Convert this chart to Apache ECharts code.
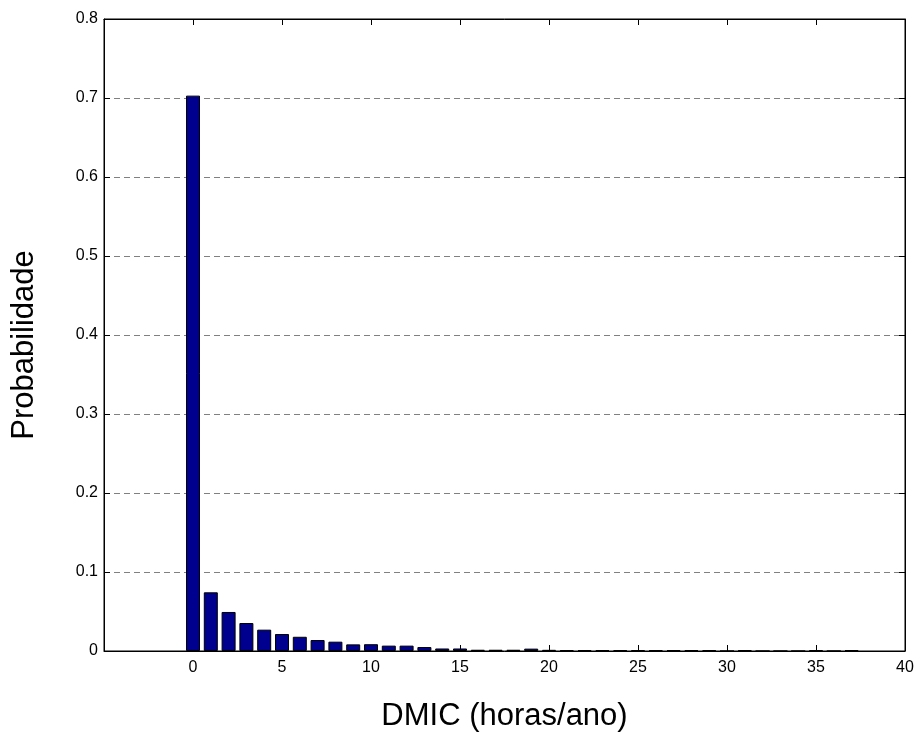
<!DOCTYPE html>
<html>
<head>
<meta charset="utf-8">
<script src="https://cdn.jsdelivr.net/npm/echarts@6/dist/echarts.min.js"></script>
<style>
    html, body { margin: 0; padding: 0; background: #fff; }
    #chart { width: 919px; height: 734px; }
</style>
</head>
<body>
<div id="chart"></div>
<script>
// DMIC classes (horas/ano) and probability of each class
const dmicHours = [0, 1, 2, 3, 4, 5, 6, 7, 8, 9, 10, 11, 12, 13, 14, 15, 16, 17, 18, 19,
    20, 21, 22, 23, 24, 25, 26, 27, 28, 29, 30, 31, 32, 33, 34, 35, 36, 37]
const probability = [0.703, 0.0743, 0.0494, 0.0354, 0.027, 0.0215, 0.018, 0.0139, 0.0118, 0.0084,
    0.0086, 0.0068, 0.0068, 0.005, 0.0032, 0.0032, 0.0016, 0.0016, 0.0016, 0.003,
    0.0015, 0.0012, 0.0012, 0.0012, 0.0012, 0.0012, 0.0012, 0.0012, 0.0012, 0.0012,
    0, 0.0012, 0, 0, 0, 0.0012, 0, 0.0012]
const xTicks = [0, 5, 10, 15, 20, 25, 30, 35, 40]
const yTicks = [0, 0.1, 0.2, 0.3, 0.4, 0.5, 0.6, 0.7, 0.8]

const chart = echarts.init(document.getElementById("chart"))

const font = "Arial, 'Liberation Sans', sans-serif"
const tickLen = 6

const option = {
    animation: false,
    backgroundColor: "#fff",
    grid: {
        left: 104,
        right: 14,
        top: 19,
        bottom: 83,
        outerBoundsMode: "none",
        containLabel: false,
        show: true,
        borderColor: "#000",
        borderWidth: 1
    },
    xAxis: [{
        type: "value",
        min: -5,
        max: xTicks[xTicks.length - 1],
        interval: 5,
        position: "bottom",
        name: "DMIC (horas/ano)",
        nameLocation: "middle",
        nameGap: 50,
        nameTextStyle: { fontFamily: font, fontSize: 31, color: "#000" },
        axisLine: { show: true, onZero: false, lineStyle: { color: "#000", width: 1 } },
        axisTick: { show: true, inside: true, length: tickLen, lineStyle: { color: "#000" } },
        axisLabel: {
            fontFamily: font, fontSize: 16, color: "#000", margin: 9,
            formatter: v => xTicks.includes(v) ? String(v) : ""
        },
        splitLine: { show: false }
    }, {
        type: "value",
        min: -5,
        max: xTicks[xTicks.length - 1],
        interval: 5,
        position: "top",
        axisLine: { show: true, onZero: false, lineStyle: { color: "#000" } },
        axisTick: { show: true, inside: true, length: tickLen, lineStyle: { color: "#000" } },
        axisLabel: { show: false },
        splitLine: { show: false }
    }],
    yAxis: [{
        type: "value",
        min: yTicks[0],
        max: yTicks[yTicks.length - 1],
        interval: 0.1,
        position: "left",
        name: "Probabilidade",
        nameLocation: "middle",
        nameGap: 64,
        nameTextStyle: { fontFamily: font, fontSize: 31, color: "#000", padding: [0, 20, 0, 0] },
        axisLine: { show: true, onZero: false, lineStyle: { color: "#000", width: 1 } },
        axisTick: { show: true, inside: true, length: tickLen, lineStyle: { color: "#000" } },
        axisLabel: { fontFamily: font, fontSize: 16, color: "#000", margin: 6 },
        splitLine: {
            show: true,
            lineStyle: { color: "#808080", width: 1, type: [6, 4] }
        }
    }, {
        type: "value",
        min: yTicks[0],
        max: yTicks[yTicks.length - 1],
        interval: 0.1,
        position: "right",
        axisLine: { show: true, onZero: false, lineStyle: { color: "#000" } },
        axisTick: { show: true, inside: true, length: tickLen, lineStyle: { color: "#000" } },
        axisLabel: { show: false },
        splitLine: { show: false }
    }],
    series: [{
        type: "bar",
        xAxisIndex: 0,
        yAxisIndex: 0,
        barWidth: 14,
        itemStyle: {
            color: "#00008f",
            borderColor: "#000",
            borderWidth: 1
        },
        data: dmicHours.map((h, i) => [h, probability[i]])
    }]
}

chart.setOption(option)
</script>
</body>
</html>
